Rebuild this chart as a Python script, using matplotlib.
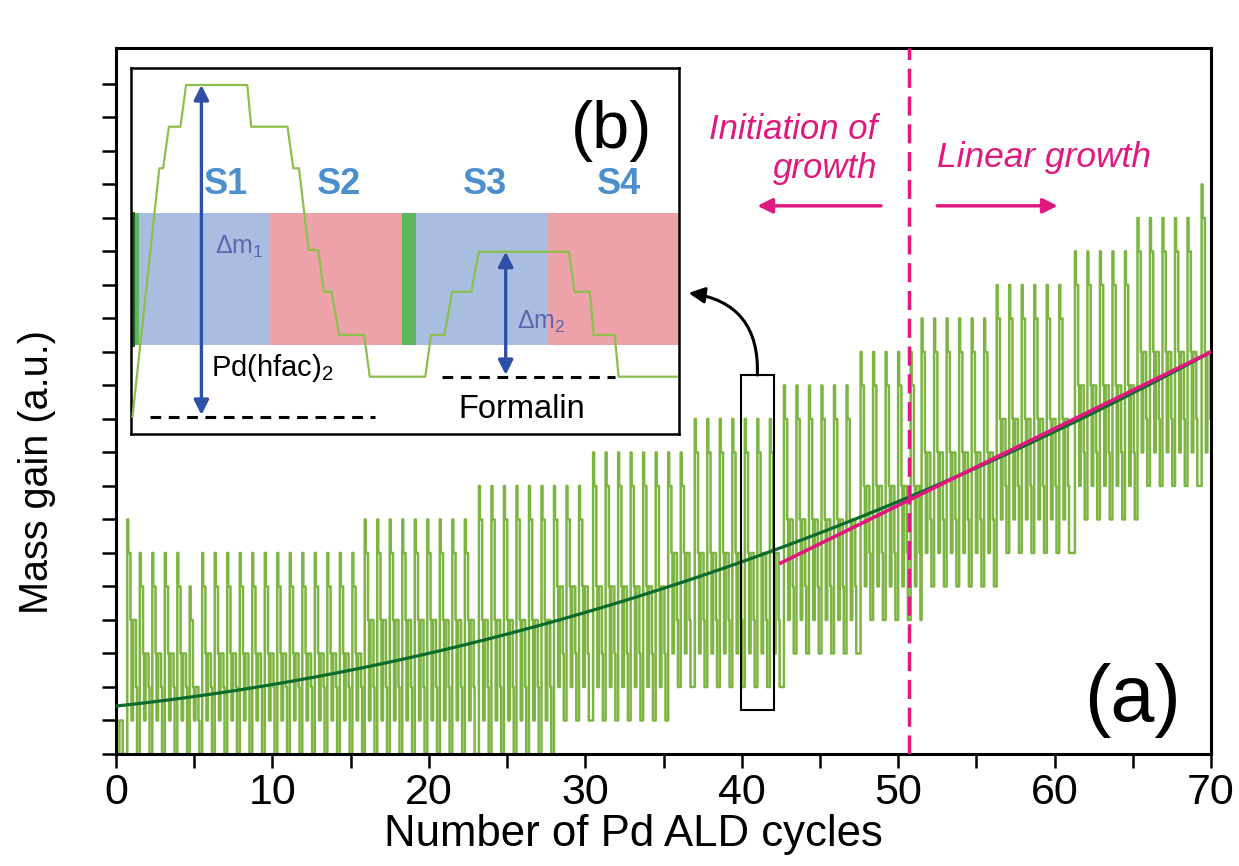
import numpy as np
import matplotlib
matplotlib.use("Agg")
import matplotlib.pyplot as plt
from matplotlib.patches import FancyArrowPatch, Rectangle

plt.rcParams['font.family'] = ['Liberation Sans', 'DejaVu Sans']
plt.rcParams['mathtext.fontset'] = 'custom'
plt.rcParams['mathtext.rm'] = 'Liberation Sans'
plt.rcParams['mathtext.it'] = 'Liberation Sans:italic'

# ---------------- main trace: pulse trains of the QCM mass signal ----------------
# each block is a run of equally spaced pulses sharing one top level
block_start = [0.22, 0.72, 1.52, 4.71, 5.51, 15.9, 23.2, 30.5, 37.0, 42.7, 47.6, 51.5, 56.3, 61.3, 65.3, 69.4]
block_count = [1, 1, 4, 1, 13, 9, 9, 8, 7, 6, 5, 6, 6, 5, 5, 1]
block_top = [1, 7, 6, 5, 6, 7, 8, 9, 10, 11, 12, 13, 14, 15, 16, 17]
pulse_period = 0.8

# baseline level between pulses, changing at the given cycle numbers
base_change_at = [0.0, 27.3, 34.7, 42.3, 47.3, 51.2, 56.0, 61.0, 65.0]
base_level = [0, 1, 2, 3, 4, 5, 6, 7, 8]

# step shape of a single pulse: time (fraction of period), height (fraction of top-base)
shape_t = [0.00, 0.00, 0.08, 0.08, 0.26, 0.26, 0.34, 0.34, 0.46, 0.46, 0.70, 0.70, 0.78, 0.78, 1.00]
shape_f = [0.0, 1.0, 1.0, 0.875, 0.875, 0.5, 0.5, 0.125, 0.125, 0.5, 0.5, 0.25, 0.25, 0.0, 0.0]

# fitted growth curve (quadratic coefficients) and linear-growth fit
fit_coef = [1.43, 0.0498, 0.001445]
lin_x = [42.5, 70.0]
lin_y = [5.7, 12.0]
boundary_cycle = 50.7

# zoomed cycle window
sel_x = [39.96, 42.06]
sel_y = [1.31, 11.31]

# ---------------- inset (b): one ALD cycle ----------------
in_u = [1.5, 28.3, 32.1, 37.9, 49.4, 55.1, 116.3, 120.2, 156.5, 162.3, 168.0, 177.6, 187.1,
        192.9, 200.5, 208.2, 233.1, 238.8, 294.3, 300.0, 313.4, 321.1, 340.2, 347.9, 437.8,
        443.5, 458.9, 462.7, 483.7, 487.6, 546.0]
in_v = [17.3, 265.7, 265.7, 307.3, 307.3, 349.0, 349.0, 307.3, 307.3, 265.7, 265.7, 184.0, 184.0,
        142.3, 142.3, 99.0, 99.0, 57.3, 57.3, 99.0, 99.0, 142.3, 142.3, 182.3, 182.3,
        142.3, 142.3, 99.0, 99.0, 57.3, 57.3]
band_edges = [0.0, 8.4, 139.3, 271.3, 284.7, 416.8, 548.0]
band_colors = ['#5cb85c', '#a9bde0', '#eca2a8', '#5cb85c', '#a9bde0', '#eca2a8']
band_v = [89.0, 221.0]
step_labels = ['S1', 'S2', 'S3', 'S4']
step_label_u = [95.0, 208.0, 353.6, 487.6]


def build_trace():
    starts = []
    tops = []
    for s, n, t in zip(block_start, block_count, block_top):
        for i in range(n):
            starts.append(s + i * pulse_period)
            tops.append(t)
    xs, ys = [], []
    st = np.array(shape_t)
    sf = np.array(shape_f)
    for k, (x0, top) in enumerate(zip(starts, tops)):
        idx = np.searchsorted(base_change_at, x0, side='right') - 1
        base = base_level[idx]
        nxt = starts[k + 1] if k + 1 < len(starts) else x0 + pulse_period
        px = np.minimum(x0 + st * pulse_period, nxt)
        py = base + np.round(sf * (top - base))
        if ys:
            # hold the previous level until this pulse starts (keeps steps vertical)
            xs.append(x0)
            ys.append(ys[-1])
        xs.extend(px)
        ys.extend(py)
    return np.array(xs), np.array(ys)


fig = plt.figure(figsize=(12.39, 8.66), dpi=100)
ax = fig.add_axes([116 / 1239, 1 - 754 / 866, (1211 - 116) / 1239, (754 - 48) / 866])

tx, ty = build_trace()
ax.plot(tx, ty, color='#7db543', lw=1.8, zorder=2)

xf = np.linspace(0, 70, 400)
yf = fit_coef[0] + fit_coef[1] * xf + fit_coef[2] * xf ** 2
ax.plot(xf, yf, color='#0b6b2c', lw=2.3, zorder=4)
ax.plot(lin_x, lin_y, color='#e2177f', lw=2.6, zorder=5)

ax.axvline(boundary_cycle, color='#e2177f', lw=2.5, dashes=(5.5, 2.5), zorder=5)

ax.add_patch(Rectangle((sel_x[0], sel_y[0]), sel_x[1] - sel_x[0], sel_y[1] - sel_y[0],
                       fill=False, ec='black', lw=1.5, zorder=6))

ax.set_xlim(0, 70)
ax.set_ylim(0, 21.07)
ax.set_xticks(range(0, 71, 10))
ax.set_xticks(range(5, 70, 10), minor=True)
ax.set_yticks(range(0, 21))
ax.set_yticklabels([])
ax.tick_params(axis='both', which='both', direction='out', length=10, width=1.8,
               top=False, right=False)
ax.tick_params(axis='x', labelsize=31, pad=4)
for sp in ax.spines.values():
    sp.set_linewidth(2.2)
ax.set_xlabel('Number of Pd ALD cycles', fontsize=31.5, labelpad=2)
ax.xaxis.set_label_coords((633 - 116) / 1095, -0.085)
ax.set_ylabel('Mass gain (a.u.)', fontsize=28.5)
ax.yaxis.set_label_coords(-0.055, 0.40)

ax.text(65.0, 1.6, '(a)', fontsize=57, ha='center', va='center', zorder=7)

pink = '#e0197f'
ax.text(48.65, 18.05, 'Initiation of\ngrowth', fontsize=25, style='italic', color=pink,
        ha='right', va='center', linespacing=1.25)
ax.text(52.5, 17.8, 'Linear growth', fontsize=25.5, style='italic', color=pink,
        ha='left', va='center')
ax.annotate('', xy=(41.0, 16.36), xytext=(48.9, 16.36),
            arrowprops=dict(arrowstyle='-|>', color=pink, lw=2.5, mutation_scale=22,
                            shrinkA=0, shrinkB=0))
ax.annotate('', xy=(60.2, 16.36), xytext=(52.5, 16.36),
            arrowprops=dict(arrowstyle='-|>', color=pink, lw=2.5, mutation_scale=22,
                            shrinkA=0, shrinkB=0))

curve = FancyArrowPatch((41.0, 11.31), (36.6, 13.76), connectionstyle='arc3,rad=0.45',
                        arrowstyle='-|>', mutation_scale=24, lw=2.2, color='black',
                        shrinkA=0, shrinkB=0, zorder=7)
ax.add_patch(curve)

# ---------------- inset ----------------
axi = fig.add_axes([131 / 1239, 1 - 434 / 866, 548 / 1239, 366 / 866], zorder=10)
axi.set_xlim(0, 548)
axi.set_ylim(0, 366)
axi.set_xticks([])
axi.set_yticks([])
for sp in axi.spines.values():
    sp.set_linewidth(1.8)

for (u0, u1), c in zip(zip(band_edges[:-1], band_edges[1:]), band_colors):
    axi.add_patch(Rectangle((u0, band_v[0]), u1 - u0, band_v[1] - band_v[0], color=c, lw=0, zorder=1))
axi.plot([2.2, 2.2], band_v, color='#1f4f1f', lw=2.0, zorder=2)

axi.plot(in_u, in_v, color='#8cc04a', lw=1.6, zorder=3)

for lab, u in zip(step_labels, step_label_u):
    axi.text(u, 250, lab, fontsize=26, fontweight='bold', color='#4b8fcc', ha='center', va='center')

axi.text(481, 303, '(b)', fontsize=48, ha='center', va='center')

dm_col = '#5a67b0'
axi.text(84, 187, r'$\mathregular{\Delta m_1}$', fontsize=18, color=dm_col, ha='left', va='center')
axi.text(386, 112, r'$\mathregular{\Delta m_2}$', fontsize=18, color=dm_col, ha='left', va='center')
axi.text(80, 66, r'Pd(hfac)$\mathregular{_2}$', fontsize=21, color='black', ha='left', va='center')
axi.text(327, 25, 'Formalin', fontsize=23.5, color='black', ha='left', va='center')

axi.plot([19, 244.5], [17.3, 17.3], color='black', lw=2.2, dashes=(3.5, 2.5), zorder=4)
axi.plot([311.5, 483.7], [57.3, 57.3], color='black', lw=2.2, dashes=(3.5, 2.5), zorder=4)

blue = '#2d4fa6'
axi.annotate('', xy=(70.4, 349), xytext=(70.4, 19),
             arrowprops=dict(arrowstyle='<|-|>', color=blue, lw=2.4, mutation_scale=22,
                             shrinkA=0, shrinkB=0), zorder=5)
axi.annotate('', xy=(374.7, 182.3), xytext=(374.7, 59),
             arrowprops=dict(arrowstyle='<|-|>', color=blue, lw=2.4, mutation_scale=22,
                             shrinkA=0, shrinkB=0), zorder=5)

fig.savefig('out.png', dpi=100, facecolor='white')
